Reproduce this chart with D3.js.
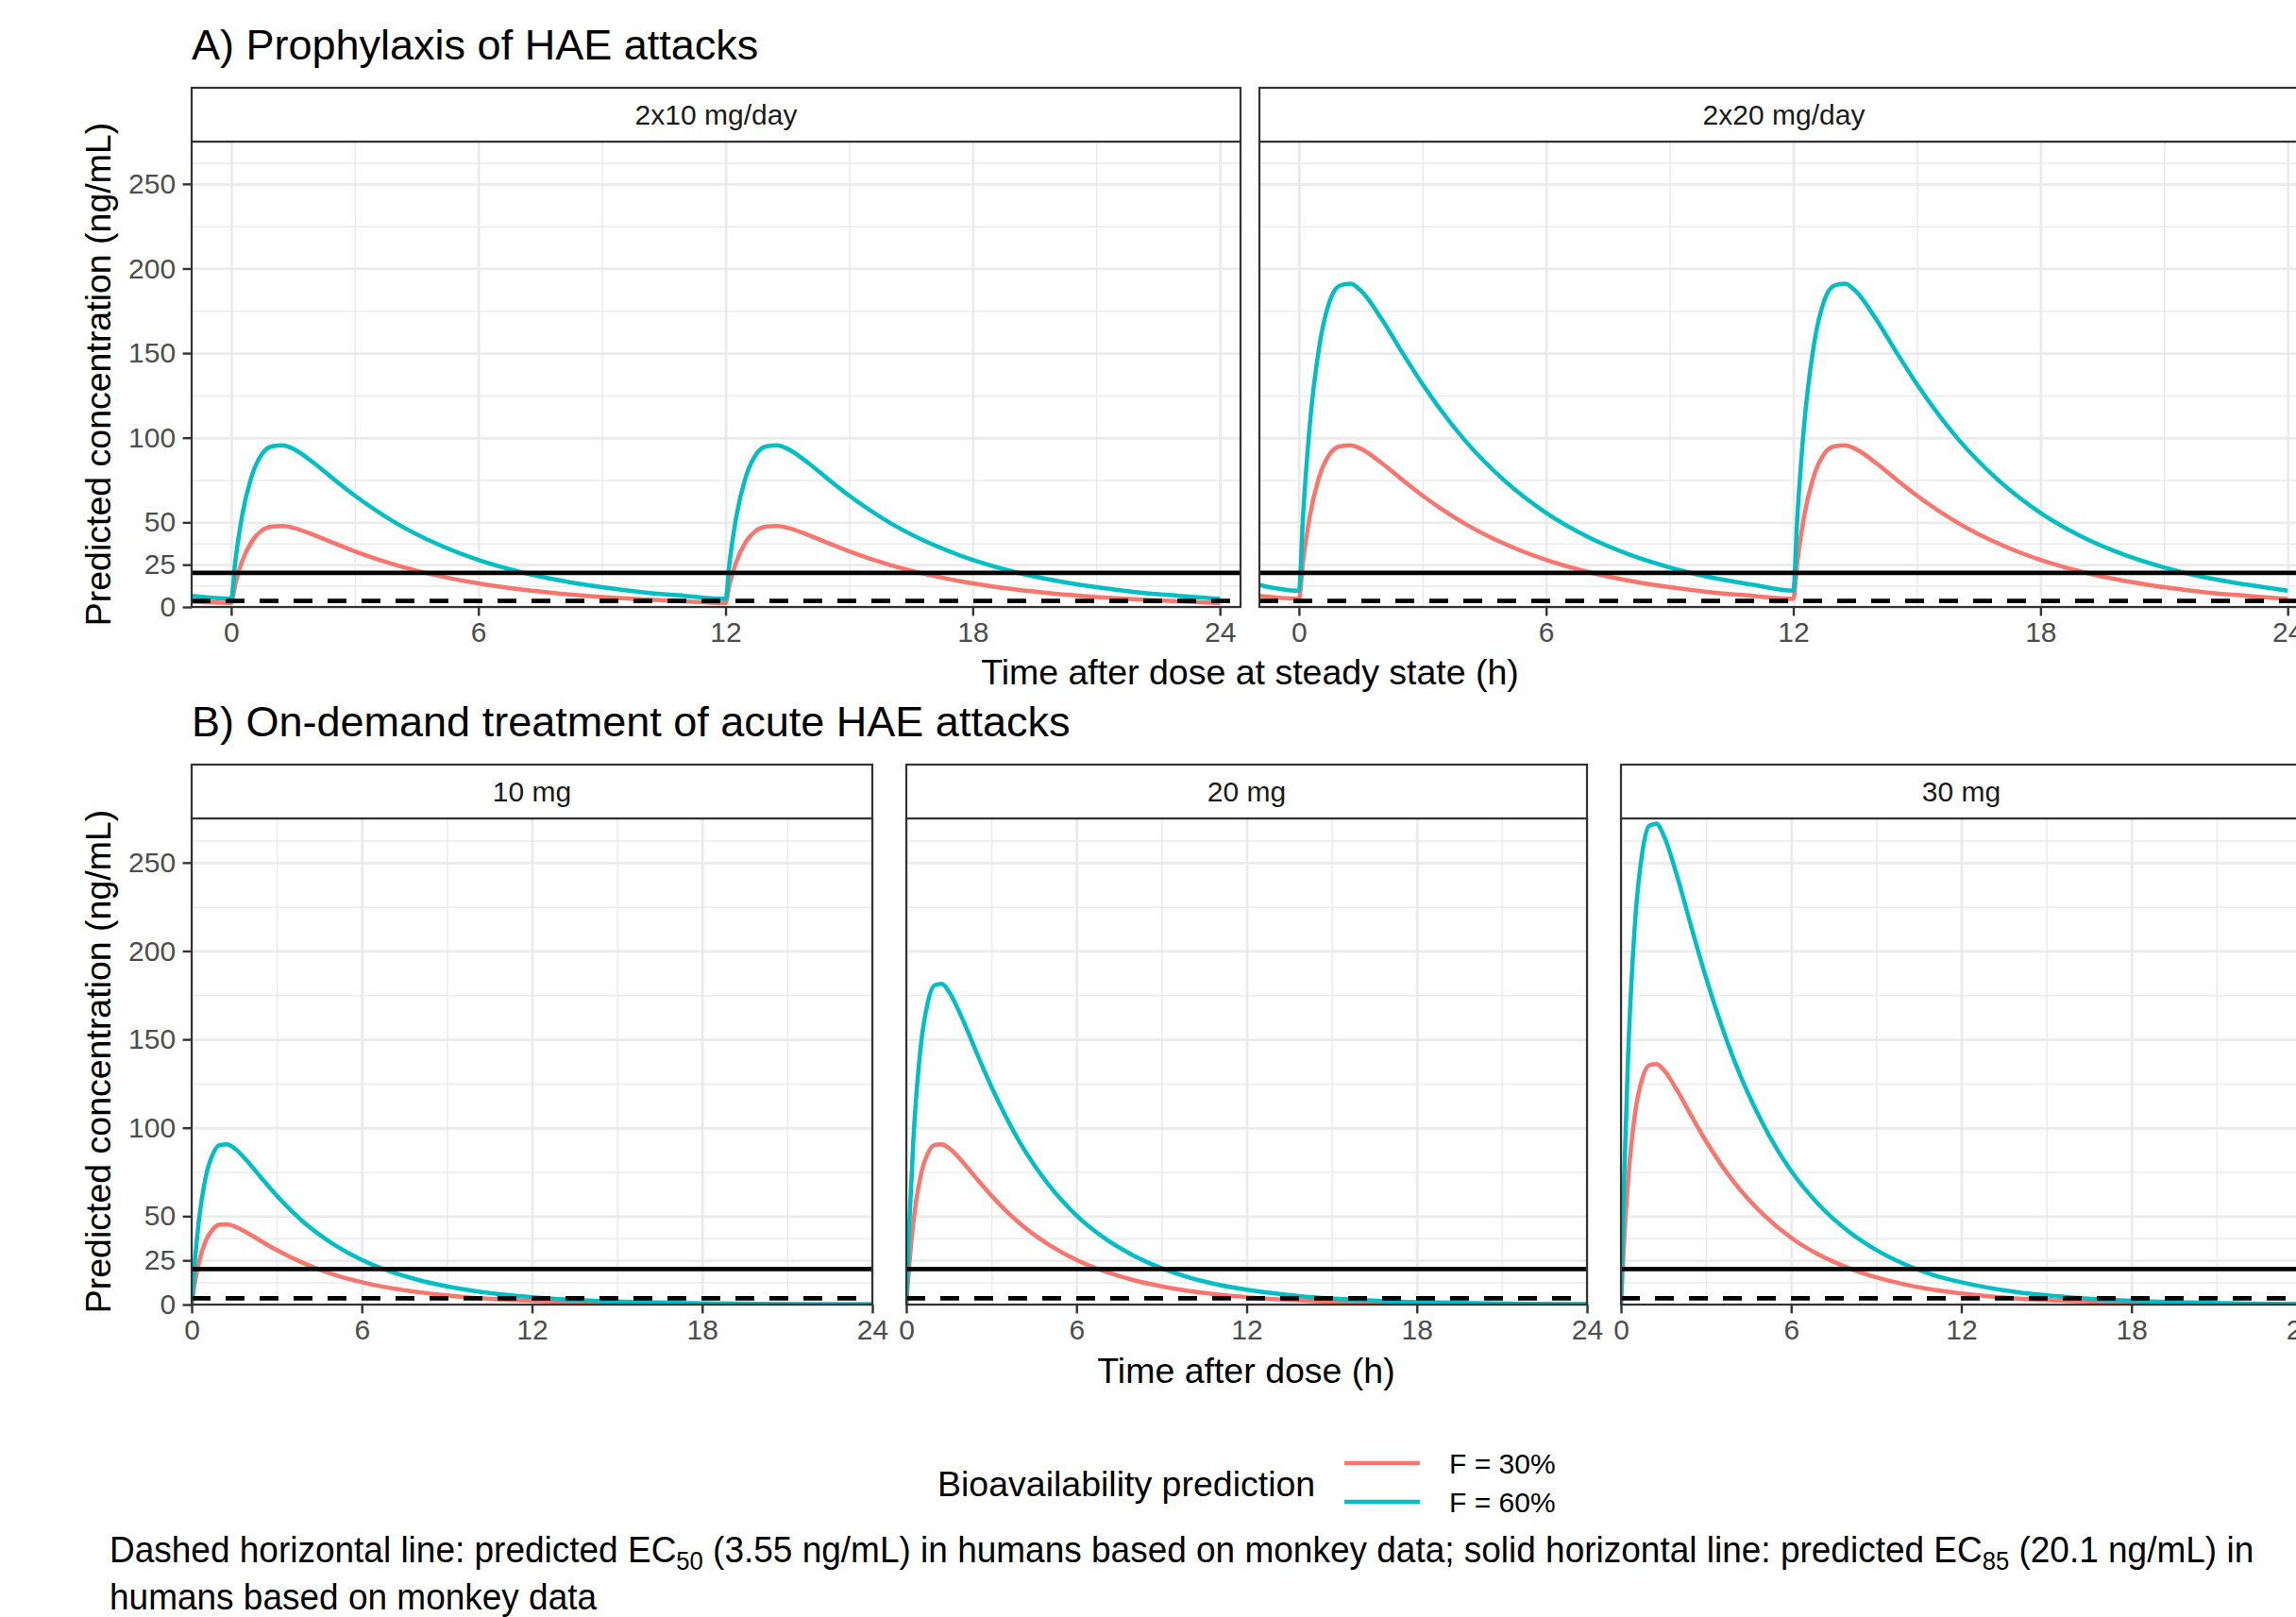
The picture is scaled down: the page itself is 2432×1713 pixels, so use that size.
<!DOCTYPE html>
<html>
<head>
<meta charset="utf-8">
<script src="https://cdn.jsdelivr.net/npm/d3@7"></script>
<style>
  body { margin: 0; background: #fff; }
  svg { display: block; }
  text { font-family: "Liberation Sans", Arial, sans-serif; }
</style>
</head>
<body>
<svg id="chart"></svg>
<script>
// ---- data ----
const yBreaks = [0, 25, 50, 100, 150, 200, 250];
const yMinor = [12.5, 37.5, 75, 125, 175, 225, 262.5];
const xBreaks = [0, 6, 12, 18, 24];
const xMinor = [3, 9, 15, 21];
const ec50 = 3.55;
const ec85 = 20.1;
const seriesNames = ["F = 30%", "F = 60%"];
const seriesColors = ["#F8766D", "#00BFC4"];

// A) prophylaxis, twice daily at steady state
const prophylaxisPanels = ["2x10 mg/day", "2x20 mg/day"];
const prophylaxisTime = [-0.96, 0, 0.1, 0.25, 0.5, 0.75, 1, 1.25, 1.5, 2, 2.5, 3, 4, 5, 6, 7, 8, 9, 10, 11, 12,
  12.1, 12.25, 12.5, 12.75, 13, 13.25, 13.5, 14, 14.5, 15, 16, 17, 18, 19, 20, 21, 22, 23, 24];
const proph10F30 = [3.2, 2.4, 13.5, 26, 38.8, 45.3, 47.5, 47.8, 46.8, 42.6, 37.7, 32.9, 24.8, 18.6, 13.9, 10.4, 7.8, 5.9, 4.4, 3.3, 2.4,
  13.5, 26, 38.8, 45.3, 47.5, 47.8, 46.8, 42.6, 37.7, 32.9, 24.8, 18.6, 13.9, 10.4, 7.8, 5.9, 4.4, 3.3, 2.4];
const proph10F60 = [6.5, 4.8, 27, 52, 77.5, 90.5, 95, 95.5, 93.5, 85.2, 75.3, 65.8, 49.6, 37.2, 27.8, 20.8, 15.6, 11.7, 8.7, 6.6, 4.8,
  27, 52, 77.5, 90.5, 95, 95.5, 93.5, 85.2, 75.3, 65.8, 49.6, 37.2, 27.8, 20.8, 15.6, 11.7, 8.7, 6.6, 4.8];
const proph20F30 = [6.5, 4.8, 27, 52, 77.5, 90.5, 95, 95.5, 93.5, 85.2, 75.3, 65.8, 49.6, 37.2, 27.8, 20.8, 15.6, 11.7, 8.7, 6.6, 4.8,
  27, 52, 77.5, 90.5, 95, 95.5, 93.5, 85.2, 75.3, 65.8, 49.6, 37.2, 27.8, 20.8, 15.6, 11.7, 8.7, 6.6, 4.8];
const proph20F60 = [13, 9.6, 54, 104, 155, 181, 190, 191, 187, 170.4, 150.6, 131.6, 99.2, 74.4, 55.6, 41.6, 31.2, 23.4, 17.4, 13.2, 9.6,
  54, 104, 155, 181, 190, 191, 187, 170.4, 150.6, 131.6, 99.2, 74.4, 55.6, 41.6, 31.2, 23.4, 17.4, 13.2, 9.6];

// B) on-demand, single dose
const demandPanels = ["10 mg", "20 mg", "30 mg"];
const demandTime = [0, 0.1, 0.25, 0.5, 0.75, 1, 1.25, 1.5, 2, 2.5, 3, 4, 5, 6, 7, 8, 9, 10, 11, 12, 14, 16, 18, 20, 22, 24];
const demand10F30 = [0, 11, 23.4, 36.2, 42.6, 45.2, 45.4, 44.3, 40.2, 35.4, 30.8, 23, 17, 12.6, 9.4, 7, 5.2, 3.8, 2.8, 2.1, 1.2, 0.6, 0.4, 0.2, 0.1, 0.1];
const demand10F60 = [0, 21.9, 46.7, 72.4, 85.2, 90.3, 90.7, 88.5, 80.4, 70.8, 61.6, 45.9, 34.1, 25.2, 18.7, 13.9, 10.3, 7.6, 5.6, 4.2, 2.3, 1.3, 0.7, 0.4, 0.2, 0.1];
const demand20F30 = [0, 21.9, 46.7, 72.4, 85.2, 90.3, 90.7, 88.5, 80.4, 70.8, 61.6, 45.9, 34.1, 25.2, 18.7, 13.9, 10.3, 7.6, 5.6, 4.2, 2.3, 1.3, 0.7, 0.4, 0.2, 0.1];
const demand20F60 = [0, 43.8, 93.4, 144.8, 170.4, 180.6, 181.4, 177, 160.8, 141.6, 123.2, 91.8, 68.2, 50.4, 37.4, 27.8, 20.6, 15.2, 11.2, 8.4, 4.6, 2.6, 1.4, 0.8, 0.4, 0.2];
const demand30F30 = [0, 32.9, 70, 108.6, 127.8, 135.4, 136, 132.8, 120.6, 106.2, 92.4, 68.9, 51.2, 37.8, 28, 20.8, 15.4, 11.4, 8.4, 6.3, 3.4, 2, 1, 0.6, 0.3, 0.2];
const demand30F60 = [0, 65.7, 140.1, 217.2, 255.6, 270.9, 272.1, 265.5, 241.2, 212.4, 184.8, 137.7, 102.3, 75.6, 56.1, 41.7, 30.9, 22.8, 16.8, 12.6, 6.9, 3.9, 2.1, 1.2, 0.6, 0.3];

// ---- layout ----
const W = 2432, H = 1713;
const yDomain = [0, 275];

const svg = d3.select("#chart")
  .attr("width", W)
  .attr("height", H)
  .attr("viewBox", `0 0 ${W} ${H}`);

const defs = svg.append("defs");

function drawPanel(p) {
  const x = d3.scaleLinear().domain(p.xDomain).range([p.x0, p.x1]);
  const y = d3.scaleLinear().domain(yDomain).range([p.y1, p.y0]);
  const g = svg.append("g");
  const h = p.y1 - p.y0;
  const w = p.x1 - p.x0;

  defs.append("clipPath").attr("id", "clip" + p.id)
    .append("rect").attr("x", p.x0).attr("y", p.y0).attr("width", w).attr("height", h);

  // minor grid
  g.append("g").attr("transform", `translate(0,${p.y1})`)
    .call(d3.axisBottom(x).tickValues(xMinor).tickSize(-h).tickFormat(""))
    .call(a => a.select(".domain").remove())
    .selectAll("line").attr("stroke", "#EBEBEB").attr("stroke-width", 1.5);
  g.append("g").attr("transform", `translate(${p.x0},0)`)
    .call(d3.axisLeft(y).tickValues(yMinor).tickSize(-w).tickFormat(""))
    .call(a => a.select(".domain").remove())
    .selectAll("line").attr("stroke", "#EBEBEB").attr("stroke-width", 1.5);
  // major grid
  g.append("g").attr("transform", `translate(0,${p.y1})`)
    .call(d3.axisBottom(x).tickValues(xBreaks).tickSize(-h).tickFormat(""))
    .call(a => a.select(".domain").remove())
    .selectAll("line").attr("stroke", "#EBEBEB").attr("stroke-width", 2.8);
  g.append("g").attr("transform", `translate(${p.x0},0)`)
    .call(d3.axisLeft(y).tickValues(yBreaks).tickSize(-w).tickFormat(""))
    .call(a => a.select(".domain").remove())
    .selectAll("line").attr("stroke", "#EBEBEB").attr("stroke-width", 2.8);

  // concentration curves
  const line = d3.line()
    .x((d, i) => x(p.times[i]))
    .y(d => y(d))
    .curve(d3.curveMonotoneX);
  const body = g.append("g").attr("clip-path", `url(#clip${p.id})`);
  body.selectAll(".curve")
    .data(p.series)
    .join("path")
    .attr("class", "curve")
    .attr("d", d => line(d))
    .attr("fill", "none")
    .attr("stroke", (d, i) => seriesColors[i])
    .attr("stroke-width", 4.5)
    .attr("stroke-linejoin", "round");

  // EC85 solid, EC50 dashed
  body.append("line")
    .attr("x1", p.x0).attr("x2", p.x1)
    .attr("y1", y(ec85)).attr("y2", y(ec85))
    .attr("stroke", "#000").attr("stroke-width", 4.8);
  body.append("line")
    .attr("x1", p.x0).attr("x2", p.x1)
    .attr("y1", y(ec50)).attr("y2", y(ec50))
    .attr("stroke", "#000").attr("stroke-width", 4.8)
    .attr("stroke-dasharray", "20,16");

  // panel border
  g.append("rect")
    .attr("x", p.x0).attr("y", p.y0).attr("width", w).attr("height", h)
    .attr("fill", "none").attr("stroke", "#333333").attr("stroke-width", 2.2);

  // strip
  g.append("rect")
    .attr("x", p.x0).attr("y", p.stripTop).attr("width", w).attr("height", p.y0 - p.stripTop)
    .attr("fill", "#fff").attr("stroke", "#333333").attr("stroke-width", 2.2);
  g.append("text")
    .attr("x", (p.x0 + p.x1) / 2)
    .attr("y", (p.stripTop + p.y0) / 2 + 10.7)
    .attr("text-anchor", "middle")
    .attr("font-size", 30)
    .attr("fill", "#1A1A1A")
    .text(p.label);

  // x axis
  const xAxis = g.append("g").attr("transform", `translate(0,${p.y1})`)
    .call(d3.axisBottom(x).tickValues(xBreaks).tickSize(9.4).tickPadding(6));
  xAxis.select(".domain").remove();
  xAxis.selectAll("line").attr("stroke", "#333333").attr("stroke-width", 2.4);
  xAxis.selectAll("text").attr("font-size", 30).attr("fill", "#4D4D4D")
    .attr("font-family", "Liberation Sans, Arial, sans-serif");

  // y axis only on first panel of a row
  if (p.showY) {
    const yAxis = g.append("g").attr("transform", `translate(${p.x0},0)`)
      .call(d3.axisLeft(y).tickValues(yBreaks).tickSize(9.4).tickPadding(7.5));
    yAxis.select(".domain").remove();
    yAxis.selectAll("line").attr("stroke", "#333333").attr("stroke-width", 2.4);
    yAxis.selectAll("text").attr("font-size", 30).attr("fill", "#4D4D4D")
      .attr("font-family", "Liberation Sans, Arial, sans-serif");
  }
}

// row A
const rowA = { stripTop: 93, y0: 150, y1: 643 };
const panelsA = [[203, 1314], [1334, 2445]];
const seriesA = [[proph10F30, proph10F60], [proph20F30, proph20F60]];
panelsA.forEach((px, i) => drawPanel({
  id: "A" + i, x0: px[0], x1: px[1], ...rowA,
  xDomain: [-0.96, 24.5], label: prophylaxisPanels[i],
  times: prophylaxisTime, series: seriesA[i], showY: i === 0
}));

// row B
const rowB = { stripTop: 810, y0: 867, y1: 1382 };
const panelsB = [[203, 924], [960, 1681], [1717, 2438]];
const seriesB = [[demand10F30, demand10F60], [demand20F30, demand20F60], [demand30F30, demand30F60]];
panelsB.forEach((px, i) => drawPanel({
  id: "B" + i, x0: px[0], x1: px[1], ...rowB,
  xDomain: [0, 24], label: demandPanels[i],
  times: demandTime, series: seriesB[i], showY: i === 0
}));

// section titles
svg.append("text").attr("x", 203).attr("y", 63).attr("font-size", 45).attr("fill", "#000")
  .text("A) Prophylaxis of HAE attacks");
svg.append("text").attr("x", 203).attr("y", 780).attr("font-size", 45).attr("fill", "#000")
  .text("B) On-demand treatment of acute HAE attacks");

// axis titles
const axisTitle = (x, y, rot, txt) => svg.append("text")
  .attr("transform", `translate(${x},${y}) rotate(${rot})`)
  .attr("text-anchor", "middle").attr("font-size", 37.5).attr("fill", "#000").text(txt);
axisTitle(1324, 725, 0, "Time after dose at steady state (h)");
axisTitle(1320, 1465, 0, "Time after dose (h)");
axisTitle(117, (rowA.y0 + rowA.y1) / 2, -90, "Predicted concentration (ng/mL)");
axisTitle(117, (rowB.y0 + rowB.y1) / 2, -90, "Predicted concentration (ng/mL)");

// legend
const legend = svg.append("g");
legend.append("text").attr("x", 993).attr("y", 1585).attr("font-size", 37.5).attr("fill", "#000")
  .text("Bioavailability prediction");
const keyY = [1550, 1591];
seriesNames.forEach((name, i) => {
  legend.append("line").attr("x1", 1424).attr("x2", 1504).attr("y1", keyY[i]).attr("y2", keyY[i])
    .attr("stroke", seriesColors[i]).attr("stroke-width", 4.5);
  legend.append("text").attr("x", 1535).attr("y", keyY[i] + 11).attr("font-size", 30).attr("fill", "#000")
    .text(name);
});

// caption (condensed look via horizontal scale)
const capFont = "Roboto, 'Liberation Sans', sans-serif";
const cap1 = svg.append("text").attr("font-size", 39).attr("font-family", capFont).attr("fill", "#000");
cap1.append("tspan").text("Dashed horizontal line: predicted EC");
cap1.append("tspan").attr("font-size", 27).attr("dy", 8).text("50");
cap1.append("tspan").attr("dy", -8).text(" (3.55 ng/mL) in humans based on monkey data; solid horizontal line: predicted EC");
cap1.append("tspan").attr("font-size", 27).attr("dy", 8).text("85");
cap1.append("tspan").attr("dy", -8).text(" (20.1 ng/mL) in");
const cap2 = svg.append("text").attr("font-size", 39).attr("font-family", capFont).attr("fill", "#000")
  .text("humans based on monkey data");
const natural = cap1.node().getComputedTextLength();
const sx = 2272 / natural;
cap1.attr("transform", `translate(116,1655) scale(${sx},1)`);
cap2.attr("transform", `translate(116,1705) scale(${sx},1)`);
</script>
</body>
</html>
